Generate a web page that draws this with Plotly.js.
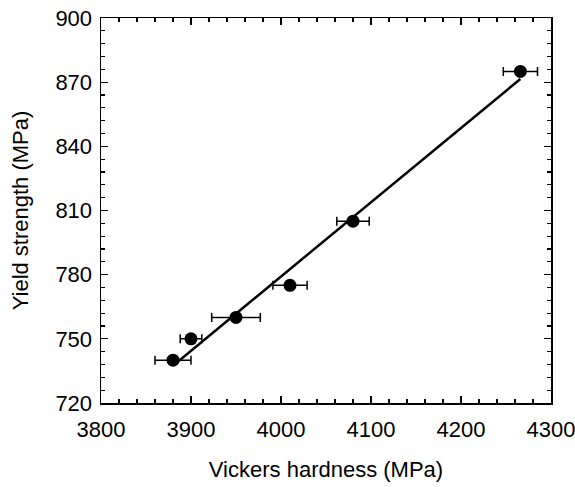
<!DOCTYPE html>
<html><head><meta charset="utf-8">
<script src="https://cdn.plot.ly/plotly-3.0.1.min.js"></script>
<style>html,body{margin:0;padding:0;background:#fff}#plot{width:575px;height:487px}</style>
</head><body><div id="plot"></div>
<script>
var hardness = [3880, 3900, 3950, 4010, 4080, 4266];
var yieldStrength = [740, 750, 760, 775, 805, 875];
var hardnessErr = [20, 12, 27, 19, 18, 19];
var fitX = [3883, 4266];
var fitY = [738.5, 871.5];

var fnt = {family: 'Liberation Sans, Arial, sans-serif', size: 22, color: '#000'};

var traces = [
  {x: fitX, y: fitY, mode: 'lines', type: 'scatter', line: {color: '#000', width: 2.5}, hoverinfo: 'skip'},
  {x: hardness, y: yieldStrength, mode: 'markers', type: 'scatter',
   marker: {color: '#000', size: 13},
   error_x: {type: 'data', array: hardnessErr, visible: true, color: '#000', thickness: 1.5, width: 4.5}}
];

var axBase = {
  showgrid: false, zeroline: false, showline: true, mirror: 'ticks', linecolor: '#000', linewidth: 1.5,
  ticks: 'inside', tickcolor: '#000', tickwidth: 1.3, ticklen: 7, tickfont: fnt,
  ticklabeloverflow: 'allow',
  minor: {ticks: 'inside', ticklen: 4, tickcolor: '#000', tickwidth: 1.3}
};

var layout = {
  width: 575, height: 487,
  margin: {l: 101, r: 24, t: 18, b: 84},
  showlegend: false,
  paper_bgcolor: '#fff', plot_bgcolor: '#fff',
  font: fnt,
  xaxis: Object.assign({}, axBase, {
    range: [3800, 4300], tickmode: 'linear', tick0: 3800, dtick: 100,
    ticklabelstandoff: 6, automargin: false,
    minor: Object.assign({}, axBase.minor, {dtick: 20}),
    title: {text: 'Vickers hardness (MPa)', font: fnt, standoff: 20}
  }),
  yaxis: Object.assign({}, axBase, {
    range: [720, 900], tickmode: 'linear', tick0: 720, dtick: 30,
    ticklabelstandoff: 3,
    minor: Object.assign({}, axBase.minor, {dtick: 6}),
    title: {text: 'Yield strength (MPa)', font: fnt, standoff: 20}
  })
};

Plotly.newPlot('plot', traces, layout, {displayModeBar: false, staticPlot: true});
</script></body></html>
